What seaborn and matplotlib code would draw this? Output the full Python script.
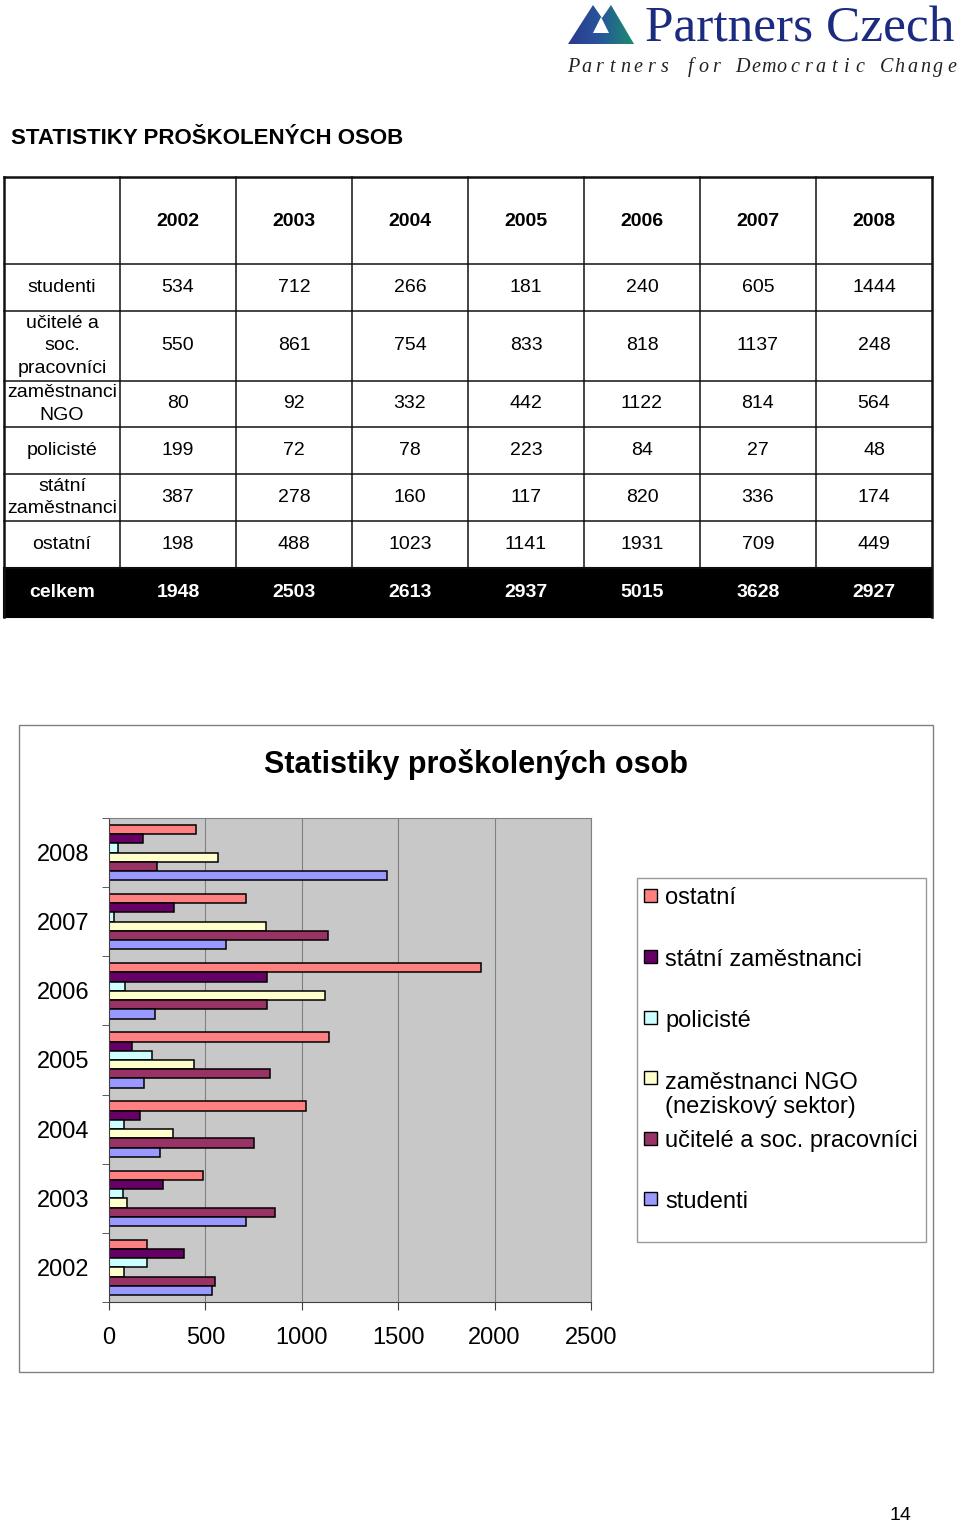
import numpy as np
import pandas as pd
import matplotlib
matplotlib.use('Agg')
import matplotlib.pyplot as plt
import seaborn as sns
from matplotlib.patches import Rectangle, Polygon
from matplotlib.colors import LinearSegmentedColormap

plt.rcParams['font.family'] = ['Liberation Sans', 'DejaVu Sans']

# data z tabulky
roky = ['2002', '2003', '2004', '2005', '2006', '2007', '2008']
studenti = [534, 712, 266, 181, 240, 605, 1444]
ucitele = [550, 861, 754, 833, 818, 1137, 248]
ngo = [80, 92, 332, 442, 1122, 814, 564]
policiste = [199, 72, 78, 223, 84, 27, 48]
statni = [387, 278, 160, 117, 820, 336, 174]
ostatni = [198, 488, 1023, 1141, 1931, 709, 449]
celkem = [1948, 2503, 2613, 2937, 5015, 3628, 2927]

radky_tabulky = ['studenti', 'učitelé a\nsoc.\npracovníci', 'zaměstnanci\nNGO',
                 'policisté', 'státní\nzaměstnanci', 'ostatní']
skupiny = ['ostatní', 'státní zaměstnanci', 'policisté',
           'zaměstnanci NGO\n(neziskový sektor)', 'učitelé a soc. pracovníci', 'studenti']
barvy = ['#FF8080', '#660066', '#CCFFFF', '#FFFFCC', '#993366', '#9999FF']

hodnoty = [ostatni, statni, policiste, ngo, ucitele, studenti]
df = pd.DataFrame([(r, s, v[i]) for s, v in zip(skupiny, hodnoty) for i, r in enumerate(roky)],
                  columns=['rok', 'skupina', 'pocet'])

fig = plt.figure(figsize=(9.6, 15.24), dpi=100)

# stránka - souřadnice v pixelech
ax0 = fig.add_axes([0, 0, 1, 1], zorder=0)
ax0.set_xlim(0, 960)
ax0.set_ylim(1524, 0)
ax0.axis('off')

# logo
hora = Polygon([(568, 44), (593, 5), (602, 18), (611, 5), (634, 44)], closed=True,
               facecolor='none', edgecolor='none')
ax0.add_patch(hora)
grad = np.linspace(0, 1, 100).reshape(1, -1)
cmap = LinearSegmentedColormap.from_list('logo', ['#2B3990', '#27579A', '#1A8C6E'])
im = ax0.imshow(grad, extent=(568, 634, 44, 5), cmap=cmap, aspect='auto')
im.set_clip_path(hora)
ax0.add_patch(Polygon([(593, 33), (601, 17), (609, 33)], closed=True, facecolor='white', edgecolor='none'))
ax0.set_xlim(0, 960)
ax0.set_ylim(1524, 0)
ax0.text(645, 42, 'Partners Czech', family='Liberation Serif', fontsize=37,
         color='#1B2B80', va='baseline', ha='left')
slogan = 'Partners for Democratic Change'
for i, ch in enumerate(slogan):
    ax0.text(573 + i * 13.05, 72, ch, family='Liberation Serif', style='italic',
             fontsize=14.5, color='#222222', va='baseline', ha='center')

ax0.text(11, 138, 'STATISTIKY PROŠKOLENÝCH OSOB', fontsize=16, fontweight='bold',
         va='center', ha='left')

# tabulka
xs = [4, 120, 236, 352, 468, 584, 700, 816, 932]
ys = [177, 264, 311, 381, 427, 474, 521, 568, 617]
ax0.add_patch(Rectangle((4, 568), 928, 49, facecolor='black', edgecolor='black', lw=1.5))
for y in ys[:-1]:
    ax0.plot([4, 932], [y, y], color='#111111', lw=1.8 if y == 177 else 1.1)
for x in xs:
    ax0.plot([x, x], [177, 617 if x in (4, 932) else 568], color='#111111',
             lw=1.8 if x in (4, 932) else 1.1)

for j, r in enumerate(roky):
    cx = (xs[j + 1] + xs[j + 2]) / 2
    ax0.text(cx, (ys[0] + ys[1]) / 2 + 1, r, fontsize=14, fontweight='bold', ha='center', va='center')
tab_hodnoty = [studenti, ucitele, ngo, policiste, statni, ostatni]
for i, (nazev, vals) in enumerate(zip(radky_tabulky, tab_hodnoty)):
    cy = (ys[i + 1] + ys[i + 2]) / 2
    ax0.text(62, cy, nazev, fontsize=14, ha='center', va='center', linespacing=1.4)
    for j, v in enumerate(vals):
        ax0.text((xs[j + 1] + xs[j + 2]) / 2, cy, str(v), fontsize=14, ha='center', va='center')
cy = (ys[7] + ys[8]) / 2
ax0.text(62, cy, 'celkem', fontsize=14, fontweight='bold', color='white', ha='center', va='center')
for j, v in enumerate(celkem):
    ax0.text((xs[j + 1] + xs[j + 2]) / 2, cy, str(v), fontsize=14, fontweight='bold',
             color='white', ha='center', va='center')

# rámeček grafu
ax0.add_patch(Rectangle((19, 725), 914, 647, facecolor='white', edgecolor='#808080', lw=1))
ax0.text(476, 765, 'Statistiky proškolených osob', fontsize=22, fontweight='bold',
         ha='center', va='center')

# legenda
leg_y = [896, 957, 1018, 1078, 1139, 1199]
ax0.add_patch(Rectangle((637, 878), 289, 364, facecolor='white', edgecolor='#999999', lw=1))
for y, s, c in zip(leg_y, skupiny, barvy):
    ax0.add_patch(Rectangle((644, y - 7), 13, 13, facecolor=c, edgecolor='black', lw=1))
    n = s.count('\n')
    ax0.text(665, y + 8.5 + n * 27, s, fontsize=17, ha='left', va='baseline', linespacing=1.15)

ax0.text(900, 1515, '14', fontsize=14, ha='center', va='center')

# graf
ax = fig.add_axes([109 / 960, (1524 - 1302) / 1524, 482 / 960, 484 / 1524], zorder=2)
ax.set_facecolor('#C8C8C8')
sns.barplot(data=df, x='pocet', y='rok', hue='skupina', order=roky[::-1], hue_order=skupiny,
            palette=barvy, orient='h', width=0.8, saturation=1, edgecolor='black',
            linewidth=1.1, errorbar=None, legend=False, ax=ax)
ax.set_xlim(0, 2500)
ax.set_ylim(6.5, -0.5)
ax.set_xticks(range(0, 2501, 500))
ax.xaxis.grid(True, color='#808080', lw=0.8)
ax.set_axisbelow(True)
ax.set_xlabel('')
ax.set_ylabel('')
ax.set_yticks(range(7))
ax.set_yticklabels(roky[::-1])
ax.set_yticks(np.arange(-0.5, 7, 1), minor=True)
ax.tick_params(axis='y', which='major', length=0, pad=14, labelsize=17)
ax.tick_params(axis='y', which='minor', length=5, color='#404040')
ax.tick_params(axis='x', length=6, pad=12, labelsize=17, color='#404040')
for side in ['left', 'bottom']:
    ax.spines[side].set_color('#404040')
for side in ['top', 'right']:
    ax.spines[side].set_color('#808080')

fig.savefig('out.png', dpi=100)
